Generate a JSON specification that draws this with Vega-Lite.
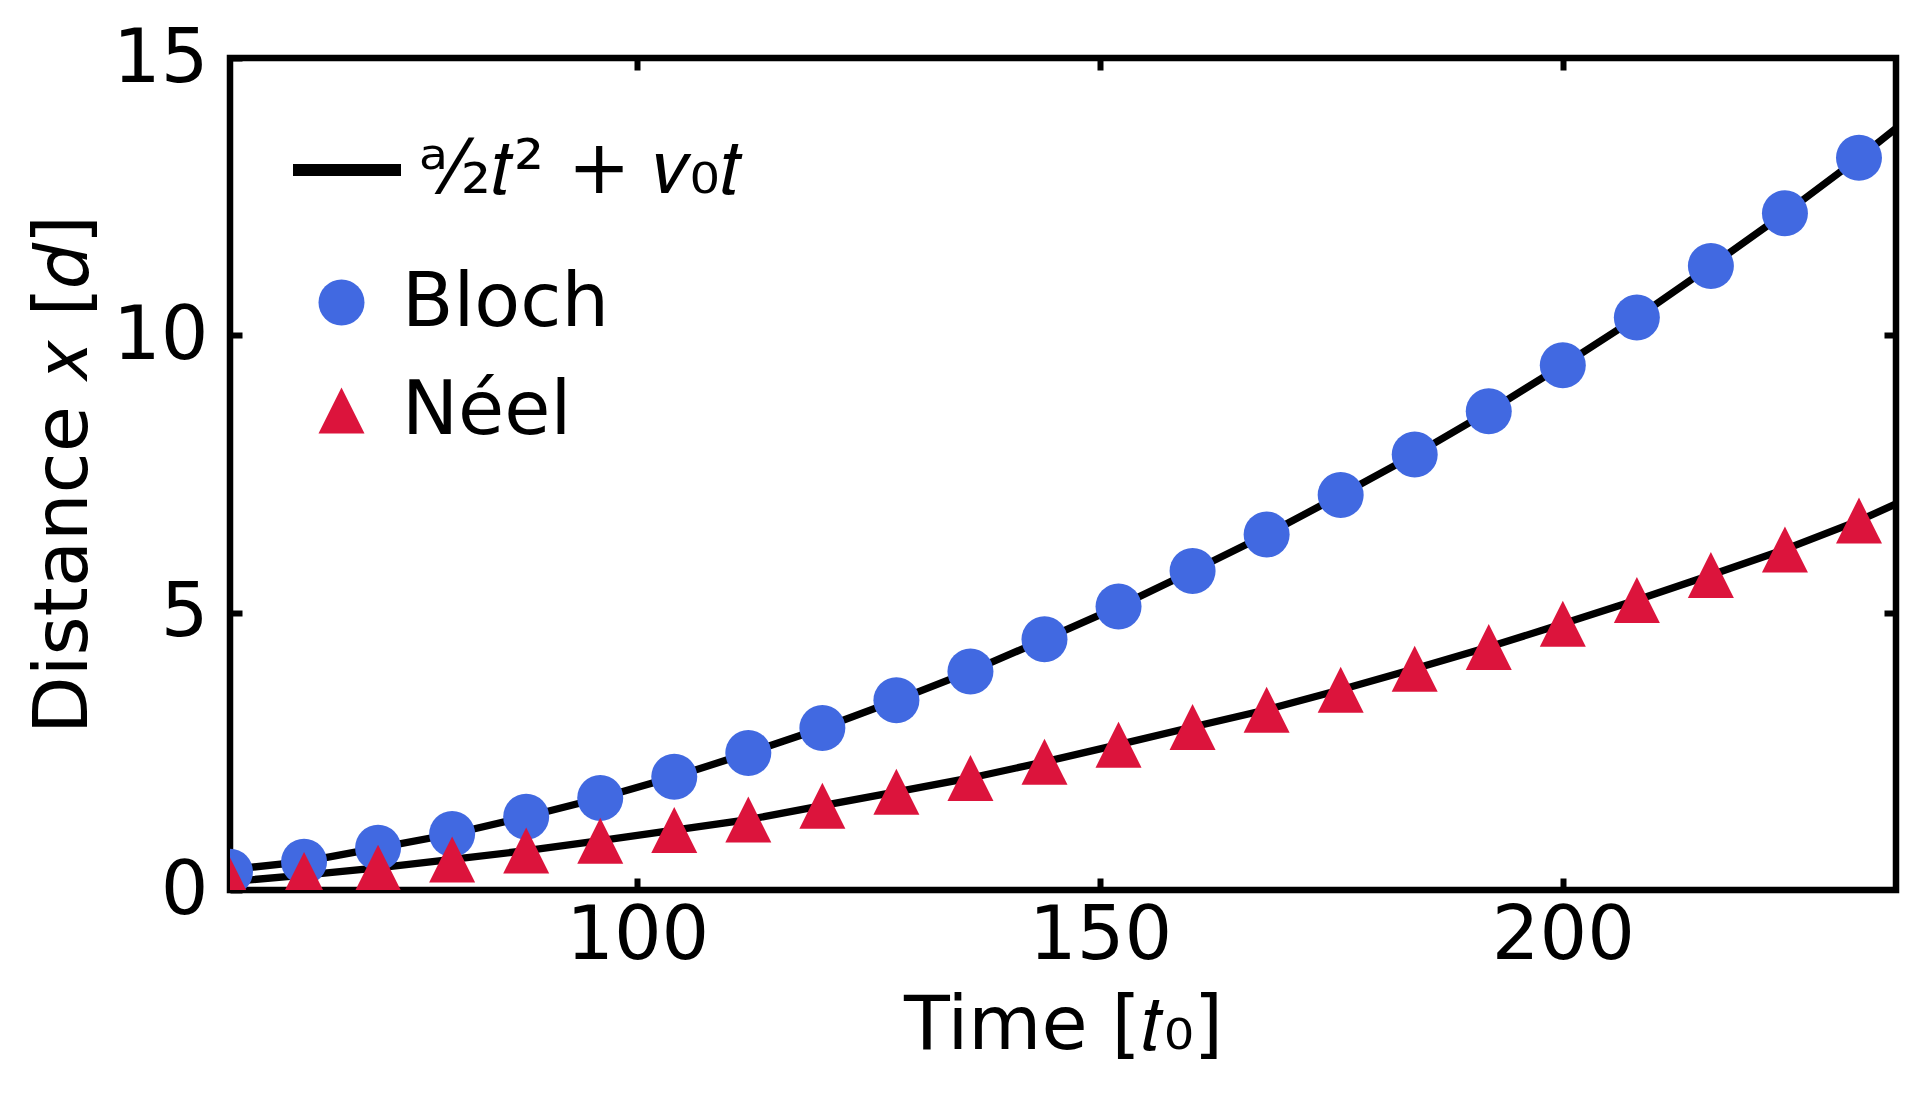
{
  "$schema": "https://vega.github.io/schema/vega-lite/v6.json",
  "width": 1666,
  "height": 832,
  "autosize": {"type": "none"},
  "padding": {"left": 230, "top": 58, "right": 30, "bottom": 208},
  "background": "white",
  "config": {
    "view": {"stroke": "black", "strokeWidth": 6.5},
    "font": "DejaVu Sans",
    "axis": {
      "domain": false, "grid": false, "zindex": 1,
      "tickColor": "black", "tickWidth": 6, "tickSize": -12,
      "labelFont": "DejaVu Sans", "labelFontSize": 75, "labelColor": "black",
      "titleFont": "DejaVu Sans", "titleFontSize": 75, "titleFontWeight": "normal", "titleColor": "black"
    },
    "legend": {
      "labelFont": "DejaVu Sans", "labelFontSize": 75, "labelColor": "black", "padding": 0, "labelLimit": 0
    }
  },
  "datasets": {
    "fit": [
      {"t": 56, "x": 0.37, "group": "Bloch", "label": "ᵃ⁄₂𝑡² + 𝑣₀𝑡"},
      {"t": 64, "x": 0.51, "group": "Bloch", "label": "ᵃ⁄₂𝑡² + 𝑣₀𝑡"},
      {"t": 72, "x": 0.76, "group": "Bloch", "label": "ᵃ⁄₂𝑡² + 𝑣₀𝑡"},
      {"t": 80, "x": 1.01, "group": "Bloch", "label": "ᵃ⁄₂𝑡² + 𝑣₀𝑡"},
      {"t": 88, "x": 1.32, "group": "Bloch", "label": "ᵃ⁄₂𝑡² + 𝑣₀𝑡"},
      {"t": 96, "x": 1.66, "group": "Bloch", "label": "ᵃ⁄₂𝑡² + 𝑣₀𝑡"},
      {"t": 104, "x": 2.04, "group": "Bloch", "label": "ᵃ⁄₂𝑡² + 𝑣₀𝑡"},
      {"t": 112, "x": 2.47, "group": "Bloch", "label": "ᵃ⁄₂𝑡² + 𝑣₀𝑡"},
      {"t": 120, "x": 2.92, "group": "Bloch", "label": "ᵃ⁄₂𝑡² + 𝑣₀𝑡"},
      {"t": 128, "x": 3.42, "group": "Bloch", "label": "ᵃ⁄₂𝑡² + 𝑣₀𝑡"},
      {"t": 136, "x": 3.94, "group": "Bloch", "label": "ᵃ⁄₂𝑡² + 𝑣₀𝑡"},
      {"t": 144, "x": 4.52, "group": "Bloch", "label": "ᵃ⁄₂𝑡² + 𝑣₀𝑡"},
      {"t": 152, "x": 5.11, "group": "Bloch", "label": "ᵃ⁄₂𝑡² + 𝑣₀𝑡"},
      {"t": 160, "x": 5.75, "group": "Bloch", "label": "ᵃ⁄₂𝑡² + 𝑣₀𝑡"},
      {"t": 168, "x": 6.41, "group": "Bloch", "label": "ᵃ⁄₂𝑡² + 𝑣₀𝑡"},
      {"t": 176, "x": 7.12, "group": "Bloch", "label": "ᵃ⁄₂𝑡² + 𝑣₀𝑡"},
      {"t": 184, "x": 7.85, "group": "Bloch", "label": "ᵃ⁄₂𝑡² + 𝑣₀𝑡"},
      {"t": 192, "x": 8.63, "group": "Bloch", "label": "ᵃ⁄₂𝑡² + 𝑣₀𝑡"},
      {"t": 200, "x": 9.46, "group": "Bloch", "label": "ᵃ⁄₂𝑡² + 𝑣₀𝑡"},
      {"t": 208, "x": 10.32, "group": "Bloch", "label": "ᵃ⁄₂𝑡² + 𝑣₀𝑡"},
      {"t": 216, "x": 11.25, "group": "Bloch", "label": "ᵃ⁄₂𝑡² + 𝑣₀𝑡"},
      {"t": 224, "x": 12.20, "group": "Bloch", "label": "ᵃ⁄₂𝑡² + 𝑣₀𝑡"},
      {"t": 232, "x": 13.20, "group": "Bloch", "label": "ᵃ⁄₂𝑡² + 𝑣₀𝑡"},
      {"t": 236, "x": 13.73, "group": "Bloch", "label": "ᵃ⁄₂𝑡² + 𝑣₀𝑡"},
      {"t": 56, "x": 0.15, "group": "Néel", "label": "ᵃ⁄₂𝑡² + 𝑣₀𝑡"},
      {"t": 64, "x": 0.27, "group": "Néel", "label": "ᵃ⁄₂𝑡² + 𝑣₀𝑡"},
      {"t": 72, "x": 0.40, "group": "Néel", "label": "ᵃ⁄₂𝑡² + 𝑣₀𝑡"},
      {"t": 80, "x": 0.55, "group": "Néel", "label": "ᵃ⁄₂𝑡² + 𝑣₀𝑡"},
      {"t": 88, "x": 0.71, "group": "Néel", "label": "ᵃ⁄₂𝑡² + 𝑣₀𝑡"},
      {"t": 96, "x": 0.89, "group": "Néel", "label": "ᵃ⁄₂𝑡² + 𝑣₀𝑡"},
      {"t": 104, "x": 1.08, "group": "Néel", "label": "ᵃ⁄₂𝑡² + 𝑣₀𝑡"},
      {"t": 112, "x": 1.27, "group": "Néel", "label": "ᵃ⁄₂𝑡² + 𝑣₀𝑡"},
      {"t": 120, "x": 1.52, "group": "Néel", "label": "ᵃ⁄₂𝑡² + 𝑣₀𝑡"},
      {"t": 128, "x": 1.77, "group": "Néel", "label": "ᵃ⁄₂𝑡² + 𝑣₀𝑡"},
      {"t": 136, "x": 2.02, "group": "Néel", "label": "ᵃ⁄₂𝑡² + 𝑣₀𝑡"},
      {"t": 144, "x": 2.31, "group": "Néel", "label": "ᵃ⁄₂𝑡² + 𝑣₀𝑡"},
      {"t": 152, "x": 2.62, "group": "Néel", "label": "ᵃ⁄₂𝑡² + 𝑣₀𝑡"},
      {"t": 160, "x": 2.94, "group": "Néel", "label": "ᵃ⁄₂𝑡² + 𝑣₀𝑡"},
      {"t": 168, "x": 3.25, "group": "Néel", "label": "ᵃ⁄₂𝑡² + 𝑣₀𝑡"},
      {"t": 176, "x": 3.61, "group": "Néel", "label": "ᵃ⁄₂𝑡² + 𝑣₀𝑡"},
      {"t": 184, "x": 3.99, "group": "Néel", "label": "ᵃ⁄₂𝑡² + 𝑣₀𝑡"},
      {"t": 192, "x": 4.38, "group": "Néel", "label": "ᵃ⁄₂𝑡² + 𝑣₀𝑡"},
      {"t": 200, "x": 4.80, "group": "Néel", "label": "ᵃ⁄₂𝑡² + 𝑣₀𝑡"},
      {"t": 208, "x": 5.23, "group": "Néel", "label": "ᵃ⁄₂𝑡² + 𝑣₀𝑡"},
      {"t": 216, "x": 5.68, "group": "Néel", "label": "ᵃ⁄₂𝑡² + 𝑣₀𝑡"},
      {"t": 224, "x": 6.14, "group": "Néel", "label": "ᵃ⁄₂𝑡² + 𝑣₀𝑡"},
      {"t": 232, "x": 6.66, "group": "Néel", "label": "ᵃ⁄₂𝑡² + 𝑣₀𝑡"},
      {"t": 236, "x": 6.96, "group": "Néel", "label": "ᵃ⁄₂𝑡² + 𝑣₀𝑡"}
    ],
    "pts": [
      {"t": 56, "x": 0.33, "series": "Bloch"},
      {"t": 64, "x": 0.51, "series": "Bloch"},
      {"t": 72, "x": 0.76, "series": "Bloch"},
      {"t": 80, "x": 1.01, "series": "Bloch"},
      {"t": 88, "x": 1.32, "series": "Bloch"},
      {"t": 96, "x": 1.66, "series": "Bloch"},
      {"t": 104, "x": 2.04, "series": "Bloch"},
      {"t": 112, "x": 2.47, "series": "Bloch"},
      {"t": 120, "x": 2.92, "series": "Bloch"},
      {"t": 128, "x": 3.42, "series": "Bloch"},
      {"t": 136, "x": 3.94, "series": "Bloch"},
      {"t": 144, "x": 4.52, "series": "Bloch"},
      {"t": 152, "x": 5.11, "series": "Bloch"},
      {"t": 160, "x": 5.75, "series": "Bloch"},
      {"t": 168, "x": 6.41, "series": "Bloch"},
      {"t": 176, "x": 7.12, "series": "Bloch"},
      {"t": 184, "x": 7.85, "series": "Bloch"},
      {"t": 192, "x": 8.63, "series": "Bloch"},
      {"t": 200, "x": 9.46, "series": "Bloch"},
      {"t": 208, "x": 10.32, "series": "Bloch"},
      {"t": 216, "x": 11.25, "series": "Bloch"},
      {"t": 224, "x": 12.20, "series": "Bloch"},
      {"t": 232, "x": 13.20, "series": "Bloch"},
      {"t": 56, "x": 0.17, "series": "Néel"},
      {"t": 64, "x": 0.27, "series": "Néel"},
      {"t": 72, "x": 0.40, "series": "Néel"},
      {"t": 80, "x": 0.55, "series": "Néel"},
      {"t": 88, "x": 0.71, "series": "Néel"},
      {"t": 96, "x": 0.89, "series": "Néel"},
      {"t": 104, "x": 1.08, "series": "Néel"},
      {"t": 112, "x": 1.27, "series": "Néel"},
      {"t": 120, "x": 1.52, "series": "Néel"},
      {"t": 128, "x": 1.77, "series": "Néel"},
      {"t": 136, "x": 2.02, "series": "Néel"},
      {"t": 144, "x": 2.31, "series": "Néel"},
      {"t": 152, "x": 2.62, "series": "Néel"},
      {"t": 160, "x": 2.94, "series": "Néel"},
      {"t": 168, "x": 3.25, "series": "Néel"},
      {"t": 176, "x": 3.61, "series": "Néel"},
      {"t": 184, "x": 3.99, "series": "Néel"},
      {"t": 192, "x": 4.38, "series": "Néel"},
      {"t": 200, "x": 4.80, "series": "Néel"},
      {"t": 208, "x": 5.23, "series": "Néel"},
      {"t": 216, "x": 5.68, "series": "Néel"},
      {"t": 224, "x": 6.14, "series": "Néel"},
      {"t": 232, "x": 6.66, "series": "Néel"}
    ]
  },
  "layer": [
    {
      "data": {"name": "fit"},
      "mark": {"type": "line", "strokeWidth": 7.3, "clip": true},
      "encoding": {
        "x": {"field": "t", "type": "quantitative", "scale": {"domain": [56, 236], "nice": false, "zero": false},
              "axis": {"orient": "bottom", "values": [100, 150, 200], "title": "Time [𝑡₀]", "labelPadding": 21, "titlePadding": 16}},
        "y": {"field": "x", "type": "quantitative", "scale": {"domain": [0, 15], "nice": false, "zero": false},
              "axis": {"orient": "left", "values": [0, 5, 10, 15], "title": "Distance 𝑥 [𝑑]", "labelPadding": 34, "titlePadding": 10}},
        "detail": {"field": "group"},
        "stroke": {"field": "label", "type": "nominal", "scale": {"range": ["black"]},
                   "legend": {"orient": "none", "legendX": 57, "legendY": 52, "title": null, "symbolType": "stroke",
                              "symbolSize": 11664, "symbolStrokeWidth": 12, "labelOffset": 12}}
      }
    },
    {
      "data": {"name": "pts"},
      "mark": {"type": "point", "filled": true, "opacity": 1, "size": 2116, "strokeWidth": 0, "clip": true},
      "encoding": {
        "x": {"field": "t", "type": "quantitative",
              "axis": {"orient": "top", "values": [100, 150, 200], "labels": false, "title": null}},
        "y": {"field": "x", "type": "quantitative",
              "axis": {"orient": "right", "values": [5, 10], "labels": false, "title": null}},
        "color": {"field": "series", "type": "nominal", "scale": {"domain": ["Bloch", "Néel"], "range": ["#4169E1", "#DC143C"]},
                  "legend": {"orient": "none", "legendX": 74, "legendY": 207, "title": null, "symbolSize": 2116,
                             "symbolStrokeWidth": 0, "labelOffset": 23, "rowPadding": 32}},
        "shape": {"field": "series", "type": "nominal", "scale": {"domain": ["Bloch", "Néel"], "range": ["circle", "M0,-1L-1,1L1,1Z"]}}
      }
    }
  ],
  "resolve": {"axis": {"x": "independent", "y": "independent"}}
}
